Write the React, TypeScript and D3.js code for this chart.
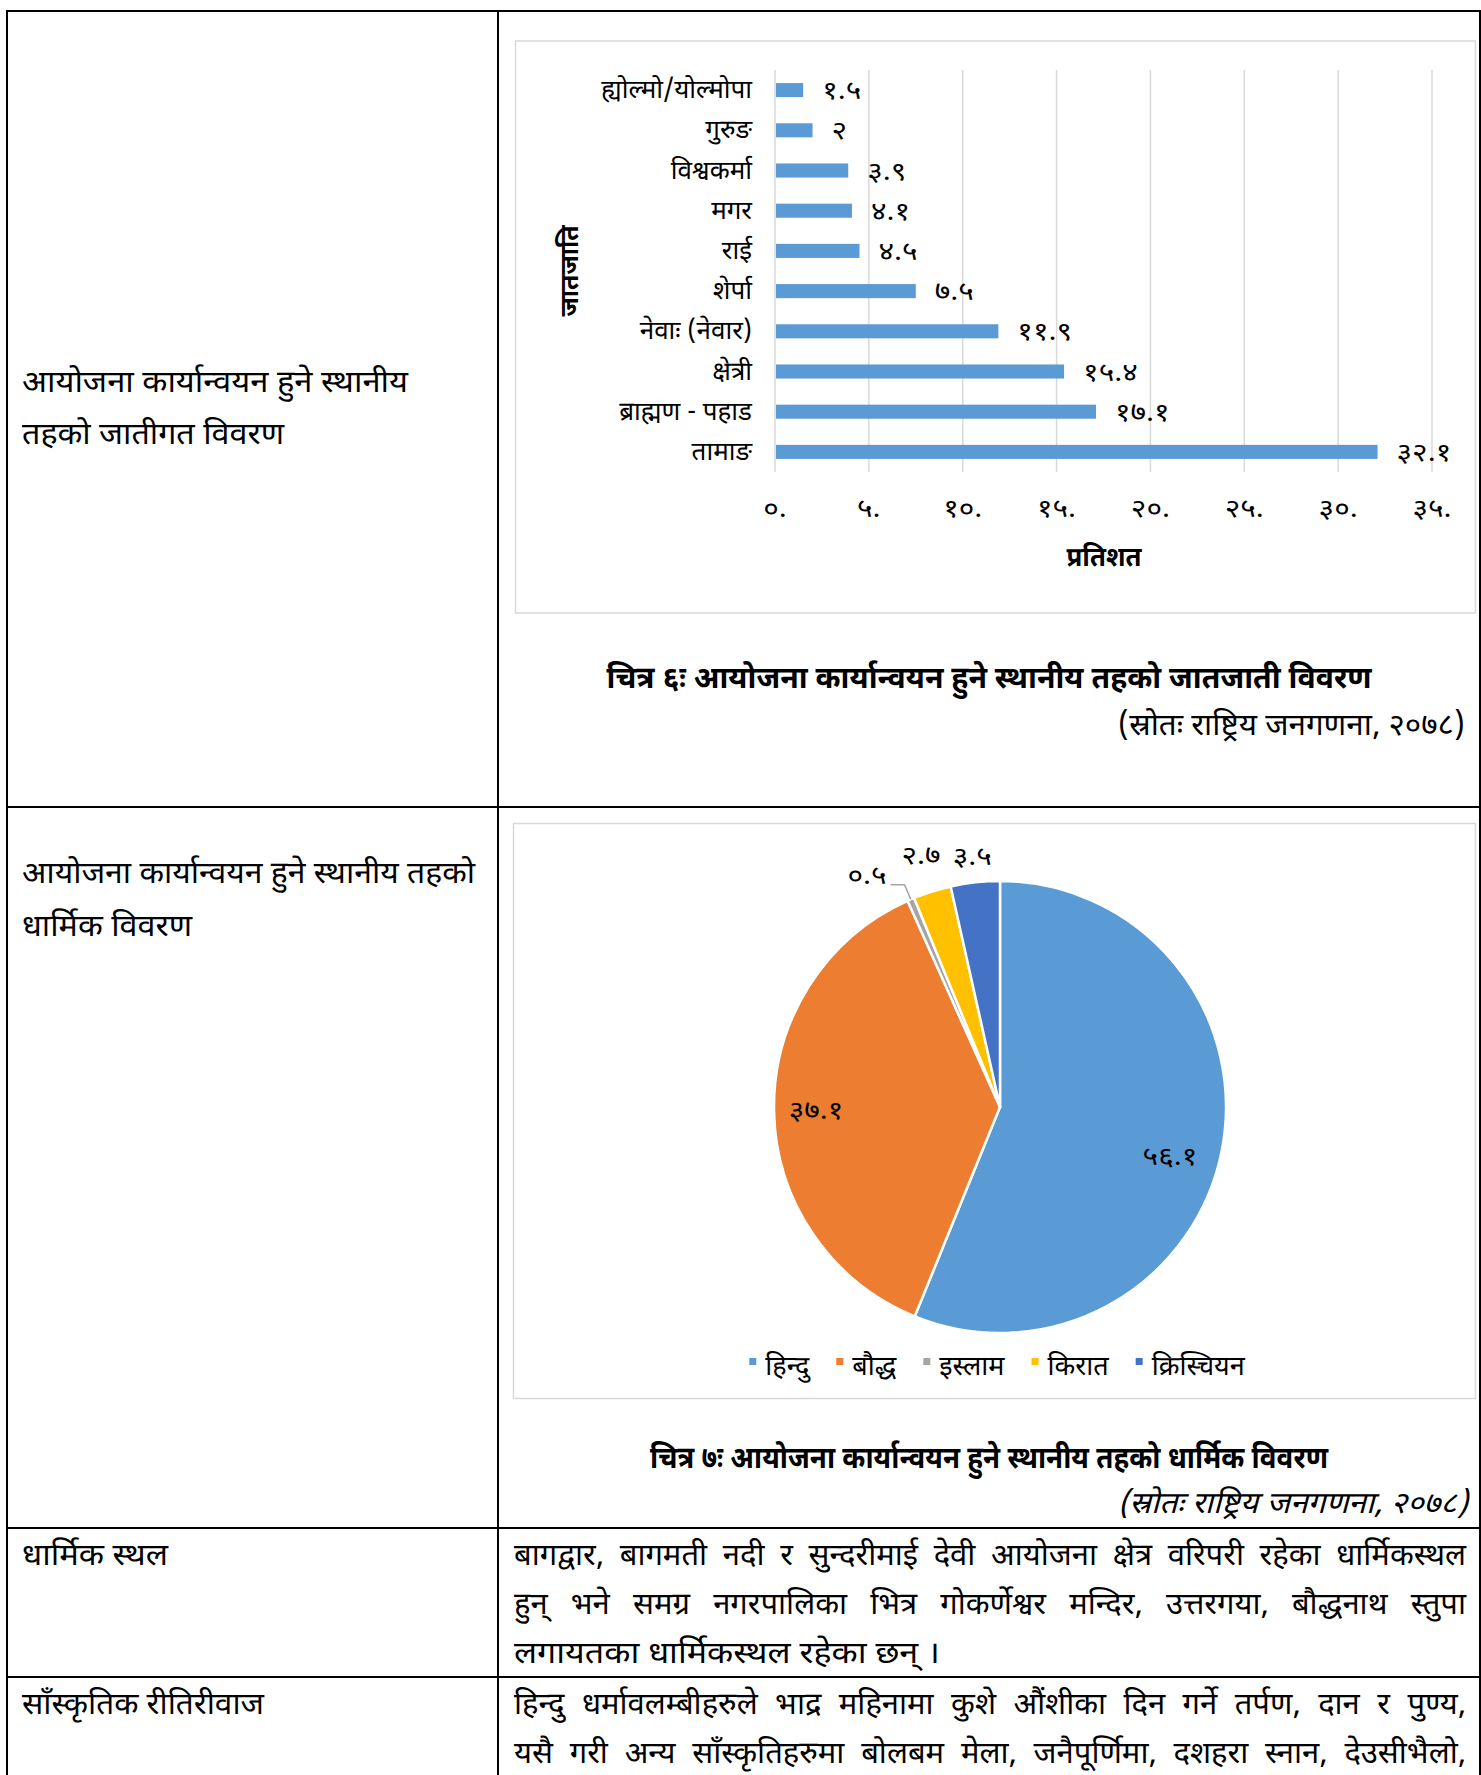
import { useEffect, useRef } from 'react';
import * as d3 from 'd3';

// जातजाति (bar chart)
const casteNames = [
  'ह्योल्मो/योल्मोपा',
  'गुरुङ',
  'विश्वकर्मा',
  'मगर',
  'राई',
  'शेर्पा',
  'नेवाः (नेवार)',
  'क्षेत्री',
  'ब्राह्मण - पहाड',
  'तामाङ',
];
const castePct = [1.5, 2, 3.9, 4.1, 4.5, 7.5, 11.9, 15.4, 17.1, 32.1];
const casteTicks = [0, 5, 10, 15, 20, 25, 30, 35];

// धर्म (pie chart)
const religionNames = ['हिन्दु', 'बौद्ध', 'इस्लाम', 'किरात', 'क्रिस्चियन'];
const religionPct = [56.1, 37.1, 0.5, 2.7, 3.5];
const religionColors = ['#5B9BD5', '#ED7D31', '#A5A5A5', '#FFC000', '#4472C4'];

const caption1 = 'चित्र ६ः आयोजना कार्यान्वयन हुने स्थानीय तहको जातजाती विवरण';
const caption2 = 'चित्र ७ः आयोजना कार्यान्वयन हुने स्थानीय तहको धार्मिक विवरण';
const sourceText = '(स्रोतः राष्ट्रिय जनगणना, २०७८)';

const leftCells = [
  ['आयोजना कार्यान्वयन हुने स्थानीय', 'तहको जातीगत विवरण'],
  ['आयोजना कार्यान्वयन हुने स्थानीय तहको', 'धार्मिक विवरण'],
  ['धार्मिक स्थल'],
  ['साँस्कृतिक रीतिरीवाज'],
];
const placesLines = [
  'बागद्वार, बागमती नदी र सुन्दरीमाई देवी आयोजना क्षेत्र वरिपरी रहेका धार्मिकस्थल',
  'हुन् भने समग्र नगरपालिका भित्र गोकर्णेश्वर मन्दिर, उत्तरगया, बौद्धनाथ स्तुपा',
  'लगायतका धार्मिकस्थल रहेका छन् ।',
];
const customsLines = [
  'हिन्दु धर्मावलम्बीहरुले भाद्र महिनामा कुशे औंशीका दिन गर्ने तर्पण, दान र पुण्य,',
  'यसै गरी अन्य साँस्कृतिहरुमा बोलबम मेला, जनैपूर्णिमा, दशहरा स्नान, देउसीभैलो,',
];

const FONT = "'Noto Sans Devanagari', 'Lohit Devanagari', 'Noto Sans', sans-serif";
const KNUM = 1.15; // the document's digits are wider than ours
const dev = (v) => String(v).replace(/[0-9]/g, (d) => '०१२३४५६७८९'[+d]);

// opts: anchor, bold, italic, k (width factor) or w (target width)
function textLine(g, str, x, y, size, opts = {}) {
  const t = g
    .append('text')
    .attr('x', x)
    .attr('y', y)
    .attr('font-size', size)
    .attr('font-weight', opts.bold ? 700 : 400)
    .attr('font-style', opts.italic ? 'italic' : 'normal')
    .attr('text-anchor', opts.anchor || 'start')
    .text(str);
  const nat = t.node().getComputedTextLength();
  const w = opts.w || nat * (opts.k || 1);
  if (nat > 0 && Math.abs(w - nat) > 0.5) t.attr('textLength', w).attr('lengthAdjust', 'spacingAndGlyphs');
  t.datum({ w: nat > 0 ? w : 0 });
  return t;
}

// spread words of one line between x0 and x1
function justify(g, str, x0, x1, y, size) {
  const words = str.split(' ');
  const nodes = words.map((w) => g.append('text').attr('y', y).attr('font-size', size).text(w));
  const nat = nodes.map((n) => n.node().getComputedTextLength());
  const minGap = size * 0.3;
  const k = Math.min(1, (x1 - x0 - minGap * (words.length - 1)) / d3.sum(nat));
  const widths = nat.map((w) => w * k);
  const gap = (x1 - x0 - d3.sum(widths)) / (words.length - 1);
  let x = x0;
  nodes.forEach((n, i) => {
    n.attr('x', x);
    if (k < 1) n.attr('textLength', widths[i]).attr('lengthAdjust', 'spacingAndGlyphs');
    x += widths[i] + gap;
  });
}

export default function App() {
  const svgRef = useRef(null);

  useEffect(() => {
    const draw = () => {
      const svg = d3.select(svgRef.current);
      svg.selectAll('*').remove();
      svg.attr('font-family', FONT);

      svg.append('rect').attr('width', 1481).attr('height', 1775).attr('fill', '#fff');

      // ---- table grid
      const colX = [7, 498, 1480];
      const rowY = [11, 807, 1528, 1677];
      const grid = svg.append('g').attr('stroke', '#000').attr('stroke-width', 2);
      colX.forEach((x) => grid.append('line').attr('x1', x).attr('x2', x).attr('y1', 10).attr('y2', 1775));
      rowY.forEach((y) => grid.append('line').attr('x1', 6).attr('x2', 1481).attr('y1', y).attr('y2', y));

      // ---- left column labels
      const body = svg.append('g').attr('fill', '#000');
      const leftBase = [[392, 444], [883, 936], [1565], [1714]];
      const leftW = [[386, 262], [453, 170], [146], [242]];
      leftCells.forEach((lines, i) => {
        lines.forEach((s, j) => textLine(body, s, 22, leftBase[i][j], 31, { w: leftW[i][j] }));
      });

      // ---- paragraphs on the right
      justify(body, placesLines[0], 514, 1466, 1565, 31);
      justify(body, placesLines[1], 514, 1466, 1614, 31);
      textLine(body, placesLines[2], 514, 1663, 31, { w: 426 });
      justify(body, customsLines[0], 514, 1466, 1714, 31);
      justify(body, customsLines[1], 514, 1466, 1763, 31);

      // ================= bar chart
      svg.append('rect')
        .attr('x', 515.5).attr('y', 41).attr('width', 960).attr('height', 572)
        .attr('fill', '#fff').attr('stroke', '#D9D9D9').attr('stroke-width', 1.5);

      const x = d3.scaleLinear().domain([0, 35]).range([775, 1432]);
      const y = d3.scaleBand().domain(casteNames).range([70, 472]).paddingInner(0.65).paddingOuter(0.325);

      const bc = svg.append('g');
      bc.selectAll('.gl')
        .data(casteTicks)
        .enter()
        .append('line')
        .attr('x1', (d) => x(d)).attr('x2', (d) => x(d))
        .attr('y1', 70).attr('y2', 472)
        .attr('stroke', '#D9D9D9').attr('stroke-width', 1.5);

      bc.selectAll('.bar')
        .data(castePct)
        .enter()
        .append('rect')
        .attr('x', x(0) + 1)
        .attr('y', (d, i) => y(casteNames[i]))
        .attr('width', (d) => x(d) - x(0) - 1)
        .attr('height', y.bandwidth())
        .attr('fill', '#5B9BD5');

      casteNames.forEach((n, i) => {
        const cy = y(n) + y.bandwidth() / 2;
        textLine(bc, n, 752, cy + 8, 26, { anchor: 'end' });
        textLine(bc, dev(castePct[i]), x(castePct[i]) + 19, cy + 9, 26, { k: KNUM });
      });

      casteTicks.forEach((t) => textLine(bc, dev(t) + '.', x(t), 517, 26, { anchor: 'middle', k: KNUM }));

      textLine(bc, 'प्रतिशत', 1104, 566, 27, { anchor: 'middle', bold: true, w: 75 });
      const yt = bc.append('g').attr('transform', 'translate(578,271) rotate(-90)');
      textLine(yt, 'जातजाति', 0, 0, 26, { anchor: 'middle', bold: true, w: 91 });

      textLine(svg, caption1, 989, 688, 31, { anchor: 'middle', bold: true, w: 765 });
      textLine(svg, sourceText, 1465, 735, 30, { anchor: 'end', w: 347 });

      // ================= pie chart
      svg.append('rect')
        .attr('x', 513.5).attr('y', 823.5).attr('width', 962).attr('height', 575)
        .attr('fill', '#fff').attr('stroke', '#D9D9D9').attr('stroke-width', 1.5);

      const cx = 1000, cy = 1107, R = 226;
      const pie = d3.pie().sort(null).value((d) => d);
      const arcs = pie(religionPct);
      const arc = d3.arc().innerRadius(0).outerRadius(R);
      const pc = svg.append('g').attr('transform', `translate(${cx},${cy})`);

      pc.selectAll('path')
        .data(arcs)
        .enter()
        .append('path')
        .attr('d', arc)
        .attr('fill', (d, i) => religionColors[i])
        .attr('stroke', '#fff')
        .attr('stroke-width', 2.5)
        .attr('stroke-linejoin', 'round');

      const at = (a, r) => [Math.sin(a) * r, -Math.cos(a) * r];
      arcs.forEach((d, i) => {
        const mid = (d.startAngle + d.endAngle) / 2;
        const label = dev(religionPct[i]);
        if (religionPct[i] > 10) {
          const [lx, ly] = i === 0 ? at(mid + 0.09, 177) : at(mid, 184);
          textLine(pc, label, lx, ly + 9, 26, { anchor: 'middle', k: KNUM });
        } else if (religionPct[i] < 1) {
          // tiny slice: label pushed out with a leader line
          const [ex, ey] = at(mid, R);
          const [bx, by] = at(mid, R + 16);
          pc.append('path')
            .attr('d', `M${ex},${ey}L${bx},${by}L${bx - 14},${by}`)
            .attr('fill', 'none').attr('stroke', '#A6A6A6').attr('stroke-width', 1.5);
          textLine(pc, label, bx - 18, by - 1, 26, { anchor: 'end', k: KNUM });
        } else {
          const [lx, ly] = at(mid, i === 3 ? 263 : 252);
          textLine(pc, label, lx, ly + 8, 26, { anchor: 'middle', k: KNUM });
        }
      });

      // legend
      const lg = svg.append('g');
      const items = religionNames.map((n, i) => {
        const g = lg.append('g');
        g.append('rect').attr('width', 7).attr('height', 7).attr('y', -17).attr('fill', religionColors[i]);
        const t = textLine(g, n, 16, 0, 27);
        return { g, w: 16 + t.datum().w };
      });
      const gapL = 27;
      const totalL = d3.sum(items, (d) => d.w) + gapL * (items.length - 1);
      let lx = 997 - totalL / 2;
      items.forEach((it) => {
        it.g.attr('transform', `translate(${lx},1375)`);
        lx += it.w + gapL;
      });

      textLine(svg, caption2, 989, 1468, 31, { anchor: 'middle', bold: true, w: 678 });
      textLine(svg, sourceText, 1468, 1513, 30, { anchor: 'end', italic: true, w: 350 });
    };

    draw();
    if (document.fonts && document.fonts.ready) document.fonts.ready.then(draw);
  }, []);

  return (
    <svg
      ref={svgRef}
      width={1481}
      height={1775}
      style={{ position: 'absolute', left: 0, top: 0, display: 'block' }}
    />
  );
}
